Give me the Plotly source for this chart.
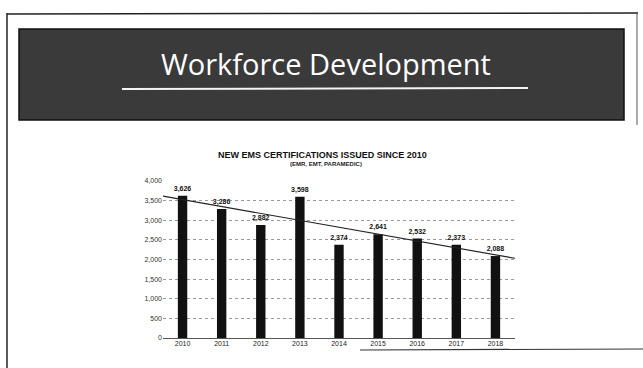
import plotly.graph_objects as go
import numpy as np

years = ["2010", "2011", "2012", "2013", "2014", "2015", "2016", "2017", "2018"]
certifications = [3626, 3286, 2882, 3598, 2374, 2641, 2532, 2373, 2088]
y_ticks = [0, 500, 1000, 1500, 2000, 2500, 3000, 3500, 4000]
y_tick_labels = ["0", "500", "1,000", "1,500", "2,000", "2,500", "3,000", "3,500", "4,000"]

W, H = 643, 368
L, R, T, B = 163, 515, 181, 338  # plot area in pixels


def px(x):
    return (x - L) / (R - L)


def py(y):
    return (B - y) / (B - T)


xi = np.arange(len(years))
slope, intercept = np.polyfit(xi, certifications, 1)
tx = np.array([-0.5, len(years) - 0.5])
ty = slope * tx + intercept

fig = go.Figure()
fig.add_trace(go.Bar(
    x=xi, y=certifications, width=0.24,
    marker=dict(color="#111111", line=dict(width=0)),
    text=[f"<b>{v:,}</b>" for v in certifications], textposition="outside",
    constraintext="none",
    textfont=dict(size=7, color="#111111", family="Liberation Sans"),
    cliponaxis=False,
))
fig.add_trace(go.Scatter(
    x=tx, y=ty, mode="lines", line=dict(color="#222222", width=1.2),
    hoverinfo="skip",
))

shapes = []
# slide frame lines
shapes.append(dict(type="line", xref="paper", yref="paper", x0=px(7), x1=px(638), y0=py(14), y1=py(13),
                   line=dict(color="#222", width=1.5)))
shapes.append(dict(type="line", xref="paper", yref="paper", x0=px(7), x1=px(7), y0=py(13), y1=py(368),
                   line=dict(color="#222", width=1.5)))
shapes.append(dict(type="line", xref="paper", yref="paper", x0=px(637), x1=px(637), y0=py(13), y1=py(125),
                   line=dict(color="#555", width=1)))
shapes.append(dict(type="line", xref="paper", yref="paper", x0=px(360), x1=px(643), y0=py(350), y1=py(349),
                   line=dict(color="#333", width=1.2)))
# banner
shapes.append(dict(type="rect", xref="paper", yref="paper", x0=px(19), x1=px(624), y0=py(29), y1=py(120),
                   fillcolor="#3a3a3a", line=dict(color="#111", width=1.5), layer="below"))
# underline
shapes.append(dict(type="line", xref="paper", yref="paper", x0=px(122), x1=px(528), y0=py(89), y1=py(88),
                   line=dict(color="#f4f4f4", width=2)))

annotations = [
    dict(text="Workforce Development", xref="paper", yref="paper", x=px(326), y=py(64),
         showarrow=False, font=dict(family="Open Sans", size=29, color="white"), xanchor="center", yanchor="middle"),
    dict(text="<b>NEW EMS CERTIFICATIONS ISSUED SINCE 2010</b>", xref="paper", yref="paper", x=px(322), y=py(155),
         showarrow=False, font=dict(family="Liberation Sans", size=9, color="#111"), xanchor="center", yanchor="middle"),
    dict(text="<b>(EMR, EMT, PARAMEDIC)</b>", xref="paper", yref="paper", x=px(326), y=py(163.5),
         showarrow=False, font=dict(family="Liberation Sans", size=6, color="#222"), xanchor="center", yanchor="middle"),
]

fig.update_layout(
    width=W, height=H,
    margin=dict(l=L, r=W - R, t=T, b=H - B, pad=0),
    paper_bgcolor="white", plot_bgcolor="white",
    showlegend=False,
    shapes=shapes, annotations=annotations,
    xaxis=dict(tickmode="array", tickvals=list(xi), ticktext=years, range=[-0.5, len(years) - 0.5],
               showgrid=False, zeroline=False, showline=False, ticks="",
               tickfont=dict(size=7, color="#222", family="Liberation Sans")),
    yaxis=dict(range=[0, 4000], tickmode="array", tickvals=y_ticks, ticktext=y_tick_labels,
               showgrid=True, gridcolor="#9a9a9a", griddash="dot", gridwidth=1,
               zeroline=True, zerolinecolor="#555", zerolinewidth=1,
               tickfont=dict(size=7, color="#333", family="Liberation Sans"), ticks="", ticklen=0),
    font=dict(family="Liberation Sans"),
)

fig.write_html("out.html")
